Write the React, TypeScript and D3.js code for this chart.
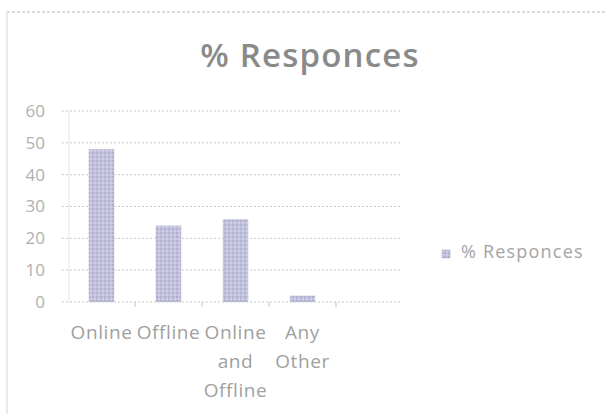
import React from "react";
import * as d3 from "d3";

const categories: string[][] = [["Online"], ["Offline"], ["Online", "and", "Offline"], ["Any", "Other"]];
const values: number[] = [48, 24, 26, 2];
const yTicks: number[] = [0, 10, 20, 30, 40, 50, 60];
const seriesName = "% Responces";
const title = "% Responces";

export default function App() {
  const W = 606, H = 414;
  const keys = categories.map((c) => c.join(" "));
  const x = d3.scaleBand<string>().domain(keys).range([68, 336]).paddingInner(0.62).paddingOuter(0.31);
  const y = d3.scaleLinear().domain([0, 60]).range([302, 111]);
  const font = "'Open Sans', 'Noto Sans', sans-serif";
  const step = x.step();
  const bandStart = 68;
  return (
    <svg width={W} height={H} style={{ position: "absolute", left: 0, top: 0, background: "#fff" }} fontFamily={font}>
      <defs>
        <pattern id="hatch" width="4" height="4" patternUnits="userSpaceOnUse">
          <rect width="4" height="4" fill="#c2c2dc" />
          <circle cx="1" cy="1" r="0.9" fill="#a8a8ca" />
          <circle cx="3" cy="3" r="0.9" fill="#d2d2e8" />
        </pattern>
      </defs>
      {/* outer border */}
      <line x1={7} x2={606} y1={12} y2={12} stroke="#b8b8b8" strokeDasharray="3,2" />
      <line x1={7} x2={7} y1={12} y2={414} stroke="#d4d4d4" />
      {/* title */}
      <text x={310} y={67} textAnchor="middle" fontSize={33} fontWeight={600} fill="#8a8a8a" letterSpacing={1.2}>{title}</text>
      {/* gridlines */}
      {yTicks.map((t) => (
        <g key={t}>
          <line x1={62} x2={402} y1={y(t)} y2={y(t)} stroke="#c8c8c8" strokeDasharray="2,2" />
          <text x={45} y={y(t)} dy="0.35em" textAnchor="end" fontSize={17} fill="#b0b0b0">{t}</text>
        </g>
      ))}
      {/* axis line */}
      <line x1={69} x2={69} y1={y(60)} y2={y(0)} stroke="#e4e4e4" />
      {keys.map((k, i) => (
        <line key={"tk" + i} x1={bandStart + step * (i + 1)} x2={bandStart + step * (i + 1)} y1={y(0)} y2={y(0) + 5} stroke="#c4c4c4" />
      ))}
      {/* bars */}
      {keys.map((k, i) => (
        <rect key={k} x={x(k)} y={y(values[i])} width={x.bandwidth()} height={y(0) - y(values[i])} fill="url(#hatch)" />
      ))}
      {/* category labels */}
      {categories.map((lines, i) => (
        <text key={"c" + i} x={(x(keys[i]) as number) + x.bandwidth() / 2} y={339} textAnchor="middle" fontSize={19} fill="#a0a0a0" letterSpacing={0.6}>
          {lines.map((l, j) => (
            <tspan key={j} x={(x(keys[i]) as number) + x.bandwidth() / 2} dy={j === 0 ? 0 : 29}>{l}</tspan>
          ))}
        </text>
      ))}
      {/* legend */}
      <rect x={442} y={250} width={8} height={8} fill="url(#hatch)" stroke="#a0a0c0" strokeWidth={0.5} />
      <text x={461} y={258} fontSize={18} fill="#a4a4a4" letterSpacing={1.2}>{seriesName}</text>
    </svg>
  );
}
